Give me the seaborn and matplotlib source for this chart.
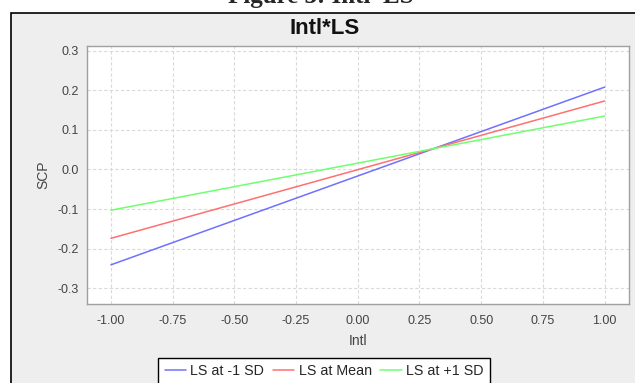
import matplotlib
matplotlib.use("Agg")
import matplotlib.pyplot as plt
import numpy as np
import pandas as pd
import seaborn as sns
from matplotlib.patches import Rectangle

# Simple slopes of SCP on Intl at three levels of LS
intl = [-1.0, 1.0]
scp_low = [-0.241, 0.208]   # LS at -1 SD
scp_mean = [-0.174, 0.173]  # LS at Mean
scp_high = [-0.103, 0.135]  # LS at +1 SD
series = ["LS at -1 SD", "LS at Mean", "LS at +1 SD"]
colors = ["#7070ff", "#ff7070", "#70ff70"]
xticks = [-1.0, -0.75, -0.5, -0.25, 0.0, 0.25, 0.5, 0.75, 1.0]
yticks = [-0.3, -0.2, -0.1, 0.0, 0.1, 0.2, 0.3]

df = pd.DataFrame({
    "Intl": intl * 3,
    "SCP": scp_low + scp_mean + scp_high,
    "series": [s for s in series for _ in intl],
})

sns.set_style("white")
plt.rcParams["font.family"] = ["Liberation Sans", "DejaVu Sans"]

W, H = 635, 383
fig = plt.figure(figsize=(W / 100, H / 100), dpi=100)
fig.patch.set_facecolor("white")

# gray chart panel with black frame
fig.patches.append(Rectangle((10.5 / W, -0.1), 1.0, 1 - 12.5 / H + 0.1,
                             transform=fig.transFigure, facecolor="#eeeeee",
                             edgecolor="black", linewidth=1.2, zorder=0))

# caption above the panel, cut off by the top edge as in the source
fig.text(0.505, 1 - 3 / H, "Figure 3: Intl*LS", ha="center", va="baseline",
         fontsize=18, fontweight="bold", family="Liberation Serif")

ax = fig.add_axes([87 / W, 1 - 304 / H, (629 - 87) / W, (304 - 46) / H])
ax.set_zorder(2)
ax.set_facecolor("white")

sns.lineplot(data=df, x="Intl", y="SCP", hue="series", palette=colors,
             linewidth=1.1, ax=ax, legend=False)

ax.set_xlim(-1.097, 1.099)
ax.set_ylim(-0.340, 0.312)
ax.set_xticks(xticks)
ax.set_xticklabels([f"{v:.2f}" for v in xticks])
ax.set_yticks(yticks)
ax.set_yticklabels([f"{v:.1f}" for v in yticks])
ax.grid(True, color="#dadada", linestyle=(0, (3, 2)), linewidth=0.8)
for s in ax.spines.values():
    s.set_color("#a0a0a0")
    s.set_linewidth(1.0)
ax.tick_params(axis="both", length=3, width=0.8, color="#a0a0a0",
               labelsize=9, labelcolor="#444444", pad=3, direction="out")
ax.tick_params(axis="x", pad=5)
ax.set_xlabel("Intl", fontsize=10, color="#444444", labelpad=5)
ax.set_ylabel("SCP", fontsize=10, color="#444444", labelpad=5)

fig.text(325 / W, 1 - 28 / H, "Intl*LS", ha="center", va="center",
         fontsize=16, fontweight="bold", color="#111111", zorder=3)

handles = [plt.Line2D([], [], color=c, linewidth=1.1) for c in colors]
leg = fig.legend(handles, series, loc="upper center",
                 bbox_to_anchor=(324 / W, 1 - 358 / H), ncol=3,
                 fontsize=10.3, frameon=True, fancybox=False,
                 handlelength=1.5, handletextpad=0.3, columnspacing=0.6,
                 borderpad=0.45, borderaxespad=0)
leg.set_zorder(4)
leg.get_frame().set_edgecolor("black")
leg.get_frame().set_linewidth(1.0)
leg.get_frame().set_facecolor("white")
leg.get_frame().set_alpha(1)

fig.savefig("out.png", dpi=100)
